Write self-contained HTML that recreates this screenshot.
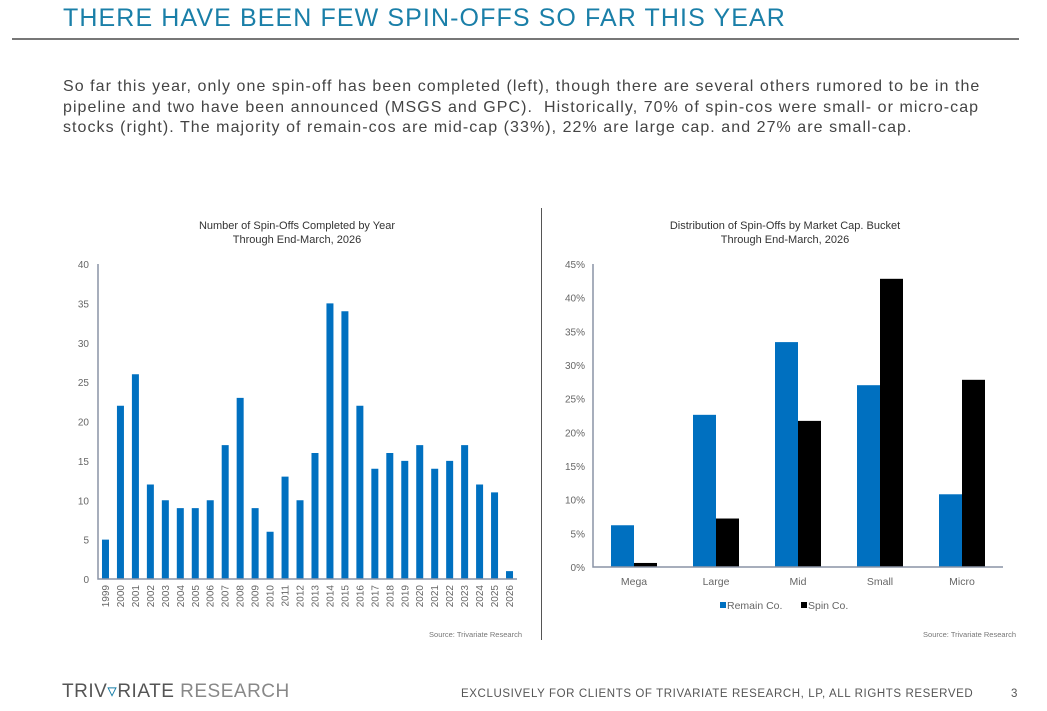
<!DOCTYPE html>
<html><head><meta charset="utf-8">
<style>
body{margin:0;width:1047px;height:711px;background:#fff;font-family:"Liberation Sans",sans-serif;position:relative;overflow:hidden}
.t{position:absolute;white-space:nowrap}
</style></head><body>
<div class="t" style="left:63px;top:4px;font-size:25px;color:#1a7fa8;letter-spacing:1.1px">THERE HAVE BEEN FEW SPIN-OFFS SO FAR THIS YEAR</div>
<div style="position:absolute;left:12px;top:38px;width:1007px;height:2px;background:#777"></div>
<div class="t" style="left:63px;top:77px;font-size:16px;line-height:20.5px;color:#444;letter-spacing:1.05px">So far this year, only one spin-off has been completed (left), though there are several others rumored to be in the<br>pipeline and two have been announced (MSGS and GPC).&nbsp; Historically, 70% of spin-cos were small- or micro-cap<br>stocks (right). The majority of remain-cos are mid-cap (33%), 22% are large cap. and 27% are small-cap.</div>
<div style="position:absolute;left:541px;top:208px;width:1px;height:432px;background:#555"></div>
<svg id="c" width="1047" height="711" style="position:absolute;left:0;top:0" font-family="Liberation Sans, sans-serif">
<text x="297" y="229" font-size="11" text-anchor="middle" fill="#333">Number of Spin-Offs Completed by Year</text>
<text x="297" y="243" font-size="11" text-anchor="middle" fill="#333">Through End-March, 2026</text>
<text x="785" y="229" font-size="11" text-anchor="middle" fill="#333">Distribution of Spin-Offs by Market Cap. Bucket</text>
<text x="785" y="243" font-size="11" text-anchor="middle" fill="#333">Through End-March, 2026</text>
<text x="522" y="637" font-size="7.5" text-anchor="end" fill="#777">Source: Trivariate Research</text>
<text x="1016" y="637" font-size="7.5" text-anchor="end" fill="#777">Source: Trivariate Research</text>
<g id="L"></g><g id="R"></g>
</svg>
<div class="t" style="left:62px;top:680px;font-size:19px;color:#555;letter-spacing:0.5px">TRIV<span style="color:#1a7fa8">▿</span>RIATE <span style="color:#888">RESEARCH</span></div>
<div class="t" style="left:461px;top:688px;font-size:11.5px;color:#555;letter-spacing:0.6px">EXCLUSIVELY FOR CLIENTS OF TRIVARIATE RESEARCH, LP, ALL RIGHTS RESERVED</div>
<div class="t" style="left:1011px;top:688px;font-size:11.5px;color:#555">3</div>
<script>
const years=["1999","2000","2001","2002","2003","2004","2005","2006","2007","2008","2009","2010","2011","2012","2013","2014","2015","2016","2017","2018","2019","2020","2021","2022","2023","2024","2025","2026"];
const spinCounts=[5,22,26,12,10,9,9,10,17,23,9,6,13,10,16,35,34,22,14,16,15,17,14,15,17,12,11,1];
const leftTicks=[0,5,10,15,20,25,30,35,40];
const buckets=["Mega","Large","Mid","Small","Micro"];
const remainPct=[6.2,22.6,33.4,27.0,10.8];
const spinPct=[0.6,7.2,21.7,42.8,27.8];
const rightTicks=[0,5,10,15,20,25,30,35,40,45];
const NS="http://www.w3.org/2000/svg";
function mk(p,t,a){const e=document.createElementNS(NS,t);for(const k in a)e.setAttribute(k,a[k]);p.appendChild(e);return e;}
const L=document.getElementById('L');
const lx0=98,lx1=517,ly0=579,ly1=264,lmax=40;
const ly=v=>ly0-(v/lmax)*(ly0-ly1);
const slot=(lx1-lx0)/years.length;
leftTicks.forEach(v=>{const t=mk(L,'text',{x:89,y:ly(v)+4,'font-size':10,'text-anchor':'end',fill:'#666'});t.textContent=v;

});
spinCounts.forEach((v,i)=>{const cx=lx0+slot*(i+0.5);
const r=mk(L,'rect',{x:cx-3.5,y:ly(v),width:7,height:ly0-ly(v),fill:'#0070c0'});


const t=mk(L,'text',{transform:`translate(${cx+3.5},${ly0+6}) rotate(-90)`,'font-size':10,'text-anchor':'end',fill:'#666'});t.textContent=years[i];

});
const la=mk(L,'path',{d:`M${lx0} ${ly1}V${ly0}H${lx1}`,stroke:'#8a94a6','stroke-width':1.5,fill:'none'});


const R=document.getElementById('R');
const rx0=593,rx1=1003,ry0=567,ry1=264,rmax=45;
const ry=v=>ry0-(v/rmax)*(ry0-ry1);
const gw=(rx1-rx0)/buckets.length,bw=23;
rightTicks.forEach(v=>{const t=mk(R,'text',{x:585,y:ry(v)+4,'font-size':10,'text-anchor':'end',fill:'#666'});t.textContent=v+'%';

});
buckets.forEach((b,i)=>{const cx=rx0+gw*(i+0.5);
const a=mk(R,'rect',{x:cx-bw,y:ry(remainPct[i]),width:bw,height:ry0-ry(remainPct[i]),fill:'#0070c0'});


const s=mk(R,'rect',{x:cx,y:ry(spinPct[i]),width:bw,height:ry0-ry(spinPct[i]),fill:'#000'});


const t=mk(R,'text',{x:cx,y:585,'font-size':10.5,'text-anchor':'middle',fill:'#666'});t.textContent=b;

});
const ra=mk(R,'path',{d:`M${rx0} ${ry1}V${ry0}H${rx1}`,stroke:'#8a94a6','stroke-width':1.5,fill:'none'});


const g1=mk(R,'g',{});


mk(g1,'rect',{x:720,y:602,width:6,height:6,fill:'#0070c0'});
mk(g1,'text',{x:727,y:609,'font-size':10.5,fill:'#666'}).textContent='Remain Co.';
const g2=mk(R,'g',{});


mk(g2,'rect',{x:801,y:602,width:6,height:6,fill:'#000'});
mk(g2,'text',{x:808,y:609,'font-size':10.5,fill:'#666'}).textContent='Spin Co.';
</script>
</body></html>
